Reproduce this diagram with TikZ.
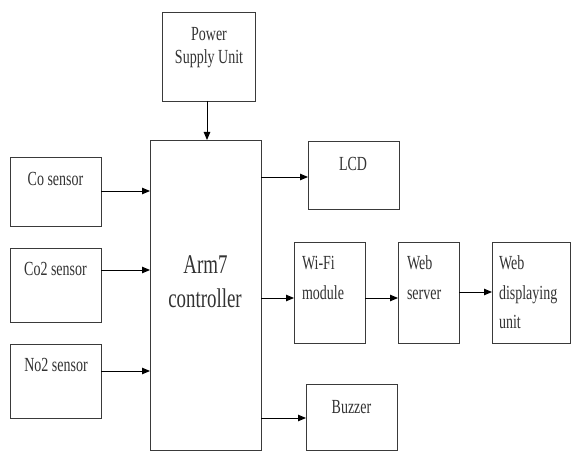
\documentclass[tikz,border=0pt]{standalone}
\usepackage{fontspec}
\usetikzlibrary{arrows.meta}
\newfontfamily\dgfont[FakeStretch=0.7]{Liberation Serif}
\definecolor{linec}{HTML}{3A3A3A}
\definecolor{textc}{HTML}{333333}
\begin{document}
\begin{tikzpicture}[x=1pt,y=-1pt,
  box/.style={draw=linec, line width=0.9pt, inner sep=0pt, outer sep=0pt, anchor=north west},
  lbl/.style={inner sep=0pt, outer sep=0pt, text=textc, font=\dgfont\fontsize{20}{24}\selectfont},
  cl/.style={lbl, anchor=base},
  ll/.style={lbl, anchor=base west},
  big/.style={inner sep=0pt, outer sep=0pt, text=textc, anchor=base, font=\dgfont\fontsize{27}{32}\selectfont},
  arr/.style={draw=black, line width=0.9pt, -{Triangle[length=8pt,width=6.5pt]}}]
\useasboundingbox[fill=white] (0,0) rectangle (571,452);
% boxes
\node[box, minimum width=93, minimum height=89] (psu) at (162,12) {};
\node[box, minimum width=111, minimum height=310] (ctrl) at (150,140) {};
\node[box, minimum width=91, minimum height=69] (co) at (10,157) {};
\node[box, minimum width=91, minimum height=74] (coo) at (10,248) {};
\node[box, minimum width=91, minimum height=74] (no) at (10,344) {};
\node[box, minimum width=91, minimum height=68] (lcd) at (308,141) {};
\node[box, minimum width=71, minimum height=101] (wifi) at (294,242) {};
\node[box, minimum width=61, minimum height=101] (ws) at (398,242) {};
\node[box, minimum width=78, minimum height=101] (wdu) at (492,242) {};
\node[box, minimum width=91, minimum height=66] (buz) at (306,384) {};
% texts
\node[cl] (psuA) at (209,41) {Power};
\node[cl] (psuB) at (209,64) {Supply Unit};
\node[big] (ctrlA) at (205.5,273) {Arm7};
\node[big] (ctrlB) at (205,307) {controller};
\node[cl] (coT) at (55.5,185) {Co sensor};
\node[cl] (cooT) at (55.5,275) {Co2 sensor};
\node[cl] (noT) at (56,371) {No2 sensor};
\node[cl] (lcdT) at (353,170) {LCD};
\node[cl] (buzT) at (351.5,413) {Buzzer};
\node[ll] (wifiA) at (302,269) {Wi-Fi};
\node[ll] (wifiB) at (302,299) {module};
\node[ll] (wsA) at (407,269) {Web};
\node[ll] (wsB) at (407,299) {server};
\node[ll] (wduA) at (499,269) {Web};
\node[ll] (wduB) at (499,299) {displaying};
\node[ll] (wduC) at (499,328) {unit};
% connectors
\draw[arr] (psu.south -| 207,0) -- (ctrl.north -| 207,0);
\draw[arr] (co.east |- 0,191) -- (ctrl.west |- 0,191);
\draw[arr] (coo.east |- 0,270) -- (ctrl.west |- 0,270);
\draw[arr] (no.east |- 0,371) -- (ctrl.west |- 0,371);
\draw[arr] (ctrl.east |- 0,177) -- (lcd.west |- 0,177);
\draw[arr] (ctrl.east |- 0,298) -- (wifi.west |- 0,298);
\draw[arr] (ctrl.east |- 0,418) -- (buz.west |- 0,418);
\draw[arr] (wifi.east |- 0,298) -- (ws.west |- 0,298);
\draw[arr] (ws.east |- 0,292) -- (wdu.west |- 0,292);
\end{tikzpicture}
\end{document}
